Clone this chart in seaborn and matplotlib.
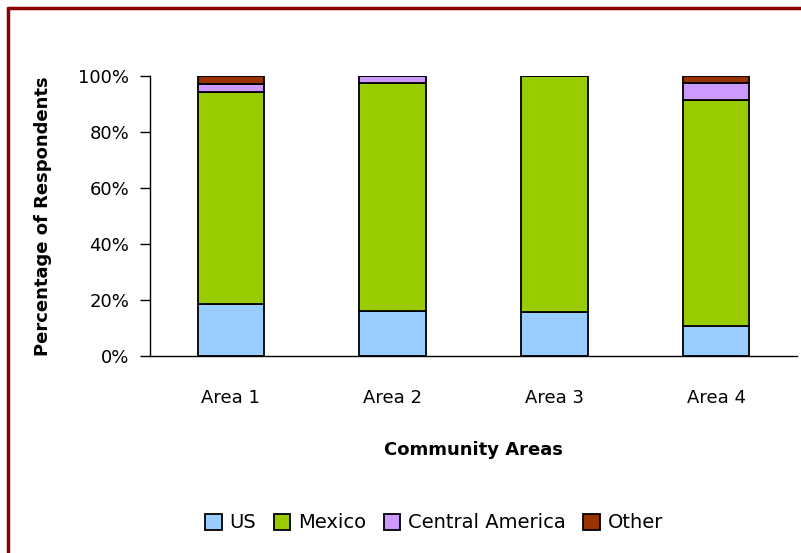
import numpy as np
import pandas as pd
import matplotlib.pyplot as plt
import seaborn as sb
from matplotlib.lines import Line2D
from matplotlib.patches import Patch

areas = ['Area 1', 'Area 2', 'Area 3', 'Area 4']
us = [18.6, 16.2, 15.6, 10.6]
mexico = [75.6, 81.4, 84.4, 80.7]
central_america = [2.8, 2.4, 0.0, 6.3]
other = [3.0, 0.0, 0.0, 2.4]

series = ['US', 'Mexico', 'Central America', 'Other']
colors = ['#99CCFF', '#99CC00', '#CC99FF', '#993300']

sb.set_style('white')
plt.rcParams['font.family'] = ['DejaVu Sans']
plt.rcParams['text.color'] = 'black'
plt.rcParams['axes.labelcolor'] = 'black'
plt.rcParams['xtick.color'] = 'black'
plt.rcParams['ytick.color'] = 'black'

fig = plt.figure(figsize=(8.01, 5.53), dpi=100)
ax = fig.add_axes([150/801, 1-356/553, 647/801, 280/553])

bottom = np.zeros(len(areas))
for name, vals, c in zip(series, [us, mexico, central_america, other], colors):
    df = pd.DataFrame({'area': areas, 'pct': vals})
    sb.barplot(data=df, x='area', y='pct', color=c, bottom=bottom, width=0.41,
               edgecolor='black', linewidth=1.3, saturation=1, ax=ax, zorder=2)
    bottom = bottom + np.array(vals)

ax.set_xlim(-0.5, 3.5)
ax.set_ylim(0, 100)
ax.set_yticks([0, 20, 40, 60, 80, 100])
ax.set_yticklabels([f'{v}%' for v in range(0, 101, 20)], fontsize=13)
ax.set_xticks(range(4))
ax.set_xticklabels(areas, fontsize=13)
ax.set_xticks([-0.5, 0.5, 1.5, 2.5, 3.5], minor=True)
ax.tick_params(axis='x', which='major', length=0, pad=24)
ax.tick_params(axis='x', which='minor', length=6, width=1, direction='out', color='black')
ax.tick_params(axis='y', length=7, width=1, direction='out', color='black', left=True, pad=8)

for s in ['top', 'right']:
    ax.spines[s].set_visible(False)
for s in ['left', 'bottom']:
    ax.spines[s].set_color('black')
    ax.spines[s].set_linewidth(1)

ax.set_xlabel('Community Areas', fontsize=13, fontweight='bold')
ax.set_ylabel('Percentage of Respondents', fontsize=13, fontweight='bold')
ax.xaxis.set_label_coords(0.5, (356-450)/280)
ax.yaxis.set_label_coords((43-150)/647, 0.5)
ax.xaxis.label.set_va('center')
ax.yaxis.label.set_va('center')

handles = [Patch(facecolor=c, edgecolor='black', linewidth=1.3, label=n) for n, c in zip(series, colors)]
fig.legend(handles=handles, loc='center', bbox_to_anchor=(434/801, 1-523/553), ncol=4,
           frameon=False, fontsize=14, handlelength=0.85, handleheight=0.85,
           handletextpad=0.4, columnspacing=0.9)

# dark red frame (left and top edges visible)
fig.add_artist(Line2D([8/801, 8/801], [0, 1-8/553], color='#8B0000', linewidth=2.5, transform=fig.transFigure))
fig.add_artist(Line2D([8/801, 1], [1-8/553, 1-8/553], color='#8B0000', linewidth=2.5, transform=fig.transFigure))

fig.savefig('out.png', dpi=100)
